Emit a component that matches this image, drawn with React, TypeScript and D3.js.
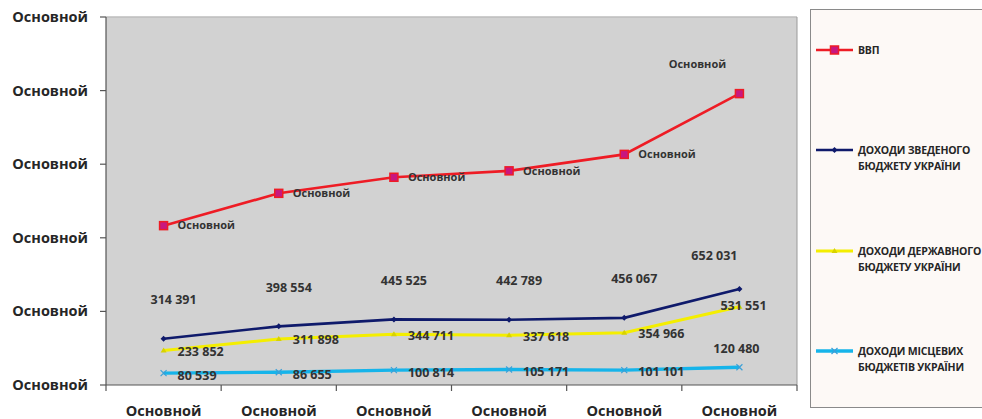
import React from "react";
import * as d3 from "d3";

const categories = ["Основной", "Основной", "Основной", "Основной", "Основной", "Основной"];
const yTickValues = [0, 500000, 1000000, 1500000, 2000000, 2500000];
const yTickLabels = ["Основной", "Основной", "Основной", "Основной", "Основной", "Основной"];

const gdp = [1082569, 1302079, 1411238, 1454931, 1566728, 1979458];
const consolidated = [314391, 398554, 445525, 442789, 456067, 652031];
const stateBudget = [233852, 311898, 344711, 337618, 354966, 531551];
const localBudgets = [80539, 86655, 100814, 105171, 101101, 120480];
const gdpLabels = ["Основной", "Основной", "Основной", "Основной", "Основной", "Основной"];

const fmt = (v: number) => d3.format(",")(v).replace(/,/g, " ");

type Series = {
  name: string[];
  values: number[];
  labels: string[];
  color: string;
  width: number;
  marker: "square" | "diamond" | "triangle" | "cross";
  labelFont: number;
  dx: number;
  dy: number;
  anchor: string;
  lastDx: number;
  lastDy: number;
  lastAnchor: string;
};

const series: Series[] = [
  { name: ["ВВП"], values: gdp, labels: gdpLabels, color: "#ee1c25", width: 2.6, marker: "square", labelFont: 11, dx: 14, dy: 0, anchor: "start", lastDx: -42, lastDy: -29, lastAnchor: "middle" },
  { name: ["ДОХОДИ ЗВЕДЕНОГО", "БЮДЖЕТУ УКРАЇНИ"], values: consolidated, labels: consolidated.map(fmt), color: "#0f1a6b", width: 2.6, marker: "diamond", labelFont: 12.5, dx: 10, dy: -39, anchor: "middle", lastDx: -25, lastDy: -33, lastAnchor: "middle" },
  { name: ["ДОХОДИ ДЕРЖАВНОГО", "БЮДЖЕТУ УКРАЇНИ"], values: stateBudget, labels: stateBudget.map(fmt), color: "#f4ee00", width: 3, marker: "triangle", labelFont: 12.5, dx: 14, dy: 1, anchor: "start", lastDx: -19, lastDy: -1, lastAnchor: "start" },
  { name: ["ДОХОДИ МІСЦЕВИХ", "БЮДЖЕТІВ УКРАЇНИ"], values: localBudgets, labels: localBudgets.map(fmt), color: "#16b4ea", width: 3.3, marker: "cross", labelFont: 12.5, dx: 14, dy: 2, anchor: "start", lastDx: -3, lastDy: -19, lastAnchor: "middle" },
];

const W = 982;
const H = 419;
const plot = { left: 106, right: 797, top: 17, bottom: 385 };
const font = "'Open Sans', 'Noto Sans', sans-serif";

function Marker({ type, x, y, color }: { type: string; x: number; y: number; color: string }) {
  if (type === "square")
    return <rect x={x - 4} y={y - 4} width={8} height={8} fill="#c8177f" stroke={color} strokeWidth={1.5} />;
  if (type === "diamond")
    return <path d={`M${x},${y - 3}L${x + 3},${y}L${x},${y + 3}L${x - 3},${y}Z`} fill={color} />;
  if (type === "triangle")
    return <path d={`M${x},${y - 3}L${x + 3},${y + 2}L${x - 3},${y + 2}Z`} fill="#d8d200" />;
  return (
    <g stroke="#3aa0d8" strokeWidth={1.2}>
      <line x1={x - 3} y1={y - 3} x2={x + 3} y2={y + 3} />
      <line x1={x - 3} y1={y + 3} x2={x + 3} y2={y - 3} />
    </g>
  );
}

export default function App() {
  const x = d3.scaleBand<number>().domain(d3.range(categories.length)).range([plot.left, plot.right]);
  const y = d3.scaleLinear().domain([0, 2500000]).range([plot.bottom, plot.top]);
  const cx = (i: number) => (x(i) as number) + x.bandwidth() / 2;
  const line = d3
    .line<number>()
    .x((_, i) => cx(i))
    .y((d) => y(d));

  const legendYs = [50, 150, 251, 351];

  return (
    <svg width={W} height={H} style={{ position: "absolute", left: 0, top: 0, background: "#fff" }}>
      <rect x={0} y={0} width={W} height={H} fill="#fff" />
      {/* plot area */}
      <rect x={plot.left} y={plot.top} width={plot.right - plot.left} height={plot.bottom - plot.top} fill="#d2d2d2" />
      <line x1={plot.left} y1={plot.top} x2={plot.right} y2={plot.top} stroke="#bdbdbd" strokeWidth={1.5} />
      <line x1={plot.right} y1={plot.top} x2={plot.right} y2={plot.bottom} stroke="#9a9a9a" strokeWidth={1} />
      {/* y axis */}
      <line x1={plot.left} y1={plot.top} x2={plot.left} y2={plot.bottom} stroke="#555" strokeWidth={1.2} />
      {yTickValues.map((v, i) => (
        <g key={"yt" + i}>
          <line x1={plot.left - 6} x2={plot.left} y1={y(v)} y2={y(v)} stroke="#555" strokeWidth={1.2} />
          <text x={88} y={y(v)} dy="0.35em" textAnchor="end" fontFamily={font} fontWeight={700} fontSize={14.5} fill="#262626">
            {yTickLabels[i]}
          </text>
        </g>
      ))}
      {/* x axis */}
      <line x1={plot.left} y1={plot.bottom} x2={plot.right} y2={plot.bottom} stroke="#555" strokeWidth={1.2} />
      {d3.range(categories.length + 1).map((i) => {
        const xx = plot.left + i * x.step();
        return <line key={"xt" + i} x1={xx} x2={xx} y1={plot.bottom} y2={plot.bottom + 6} stroke="#555" strokeWidth={1.2} />;
      })}
      {categories.map((c, i) => (
        <text key={"xl" + i} x={cx(i)} y={411} dy="0.35em" textAnchor="middle" fontFamily={font} fontWeight={700} fontSize={14.5} fill="#262626">
          {c}
        </text>
      ))}
      {/* series */}
      {series.map((s, si) => (
        <g key={"s" + si}>
          <path d={line(s.values) || ""} fill="none" stroke={s.color} strokeWidth={s.width} />
          {s.values.map((v, i) => (
            <Marker key={i} type={s.marker} x={cx(i)} y={y(v)} color={s.color} />
          ))}
        </g>
      ))}
      {series.map((s, si) => (
        <g key={"l" + si}>
          {s.values.map((v, i) => {
            const last = i === s.values.length - 1;
            return (
              <text
                key={i}
                x={cx(i) + (last ? s.lastDx : s.dx)}
                y={y(v) + (last ? s.lastDy : s.dy)}
                dy="0.35em"
                textAnchor={last ? s.lastAnchor : s.anchor}
                fontFamily={font}
                fontWeight={700}
                fontSize={s.labelFont}
                fill="#333"
              >
                {s.labels[i]}
              </text>
            );
          })}
        </g>
      ))}
      {/* legend */}
      <rect x={810.5} y={9.5} width={200} height={398} fill="#fdf9f6" stroke="#8a8a8a" strokeWidth={1} />
      {series.map((s, si) => {
        const ly = legendYs[si];
        return (
          <g key={"lg" + si}>
            <line x1={816} x2={853} y1={ly} y2={ly} stroke={s.color} strokeWidth={s.width} />
            <Marker type={s.marker} x={834.5} y={ly} color={s.color} />
            {s.name.map((t, k) => (
              <text
                key={k}
                x={858}
                y={ly + k * 16.5}
                dy="0.35em"
                fontFamily={font}
                fontWeight={700}
                fontSize={10.5}
                fill="#262626"
                letterSpacing={-0.2}
              >
                {t}
              </text>
            ))}
          </g>
        );
      })}
    </svg>
  );
}
